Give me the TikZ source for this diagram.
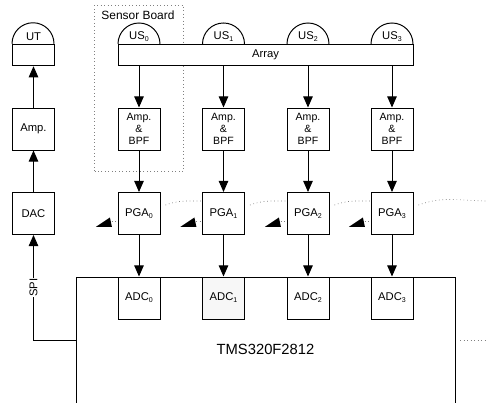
\documentclass[tikz,border=0pt]{standalone}
\usepackage{fontspec}
\setmainfont{Liberation Sans}
\usetikzlibrary{arrows.meta}
\newcommand{\subidx}[1]{\raisebox{-0.35ex}{\fontsize{5}{5}\selectfont #1}}
\tikzset{
    blockbox/.style={draw,line width=0.7pt,minimum width=1.05cm,minimum height=1.05cm,inner sep=0pt,align=center,font=\fontsize{8}{9}\selectfont},
    filterbox/.style={blockbox,font=\fontsize{7.5}{8.5}\selectfont},
    sigline/.style={line width=0.7pt,-{Triangle[length=2.8mm,width=2.4mm]}},
    dotline/.style={gray,line width=0.5pt,dotted},
    lbl/.style={inner sep=0pt,font=\fontsize{8}{9}\selectfont},
}

\begin{document}
\begin{tikzpicture}
    \useasboundingbox (0,0) rectangle (12.2,10.075);
    % sensor board outline goes first, the array covers it
    \draw[dotline] (2.3625,5.8) rectangle (4.5875,9.95);
    \node[lbl,font=\fontsize{8.5}{10}\selectfont] (board) at (3.45,9.7) {Sensor Board};
    % transmit side
    \node[blockbox] (dac) at (0.8375,4.7375) {DAC};
    \node[blockbox] (amp) at (0.8375,6.85) {Amp.};
    \node[blockbox,minimum height=0.5375cm] (ut) at (0.8375,8.7) {};
    \draw[line width=0.7pt] (ut.north west) arc (180:0:0.525);
    \node[lbl] (uttext) at (0.8375,9.16) {UT};
    \draw[sigline] (dac) -- (amp);
    \draw[sigline] (amp) -- (ut);
    % receive side
    \node[draw,fill=white,line width=0.7pt,minimum width=7.375cm,minimum height=0.5375cm,inner sep=0pt] (array) at (6.6375,8.7) {};
    \node[lbl] (arraytext) at (6.6375,8.7) {Array};
    \coordinate (mcutl) at (1.9,3.15);
    \coordinate (mcutr) at (11.3875,3.15);
    \draw[line width=0.7pt] (1.9,0) -- (mcutl) -- (mcutr) -- (11.3875,0);
    \node[font=\fontsize{10.5}{12}\selectfont,inner sep=0pt] (mcu) at (6.6375,1.33) {TMS320F2812};
    \foreach \i/\x/\shade in {0/3.475/white,1/5.5875/black!3,2/7.7/white,3/9.8/white}{
        \draw[line width=0.7pt] (\x-0.525,8.975) arc (180:0:0.525);
        \node[lbl] (us\i) at (\x,9.16) {US\subidx{\i}};
        \node[filterbox] (filt\i) at (\x,6.85) {Amp.\\\&\\BPF};
        \node[blockbox] (pga\i) at (\x,4.7375) {PGA\subidx{\i}};
        \node[blockbox,fill=\shade] (adc\i) at (\x,2.625) {ADC\subidx{\i}};
        \draw[sigline] (array.south -| filt\i) -- (filt\i);
        \draw[sigline] (filt\i) -- (pga\i);
        \draw[sigline] (pga\i) -- (adc\i.north);
        % gain wedge
        \fill ([xshift=-0.54cm,yshift=-0.335cm]pga\i.west) -- ([xshift=-0.14cm,yshift=-0.335cm]pga\i.west) -- ([xshift=-0.19cm,yshift=-0.1cm]pga\i.west) -- cycle;
        \draw[dotline] ([xshift=-0.15cm,yshift=-0.1875cm]pga\i.west) -- ([yshift=-0.1875cm]pga\i.west);
    }
    % gain control
    \foreach \i/\j in {0/1,1/2,2/3}{
        \draw[dotline] ([xshift=0.125cm,yshift=0.2125cm]pga\i.east) to[out=20,in=180] ([yshift=0.3125cm]pga\j.west);
    }
    \coordinate (gainend) at (12.2,5.05);
    \draw[dotline] ([xshift=0.125cm,yshift=0.2125cm]pga3.east) to[out=20,in=180] (gainend);
    \coordinate (clkstart) at (11.5,1.575);
    \coordinate (clkend) at (12.2,1.575);
    \draw[dotline] (clkstart) -- (clkend);
    % spi link
    \coordinate (spiout) at (1.9,1.575);
    \draw[sigline] (spiout) -| (dac.south) node[pos=0.75,fill=white,rotate=90,inner sep=1pt,lbl] (spi) {SPI};
\end{tikzpicture}
\end{document}
